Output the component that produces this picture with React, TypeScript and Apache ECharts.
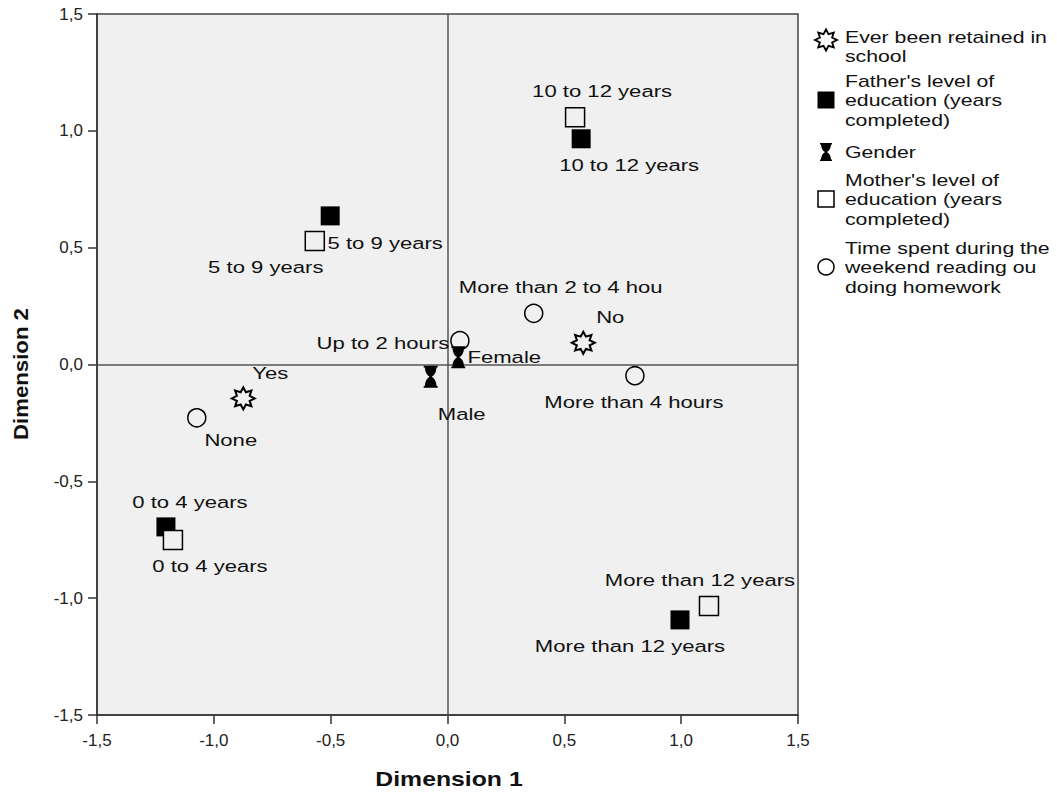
import React, { useEffect, useRef } from "react";
import * as echarts from "echarts";

// ---------- data ----------
const retainedCats = ["Yes", "No"];
const retainedX = [-0.874, 0.581];
const retainedY = [-0.145, 0.093];

const fatherCats = ["0 to 4 years", "5 to 9 years", "10 to 12 years", "More than 12 years"];
const fatherX = [-1.205, -0.502, 0.572, 0.995];
const fatherY = [-0.695, 0.636, 0.966, -1.093];

const motherCats = ["0 to 4 years", "5 to 9 years", "10 to 12 years", "More than 12 years"];
const motherX = [-1.175, -0.568, 0.546, 1.119];
const motherY = [-0.751, 0.529, 1.058, -1.033];

const genderCats = ["Male", "Female"];
const genderX = [-0.072, 0.046];
const genderY = [-0.052, 0.031];

const timeCats = ["None", "Up to 2 hours", "More than 2 to 4 hou", "More than 4 hours"];
const timeX = [-1.073, 0.053, 0.369, 0.802];
const timeY = [-0.228, 0.102, 0.219, -0.048];

const tickValues = [-1.5, -1.0, -0.5, 0, 0.5, 1.0, 1.5];
const tickLabels = ["-1,5", "-1,0", "-0,5", "0,0", "0,5", "1,0", "1,5"];

const legendLines = [
  ["Ever been retained in", "school"],
  ["Father's level of", "education (years", "completed)"],
  ["Gender"],
  ["Mother's level of", "education (years", "completed)"],
  ["Time spent during the", "weekend reading ou", "doing homework"],
];

// ---------- styles / label placement (pixels) ----------
const retainedLabelOffsets = [[27, -25], [27, -26]];
const fatherLabelOffsets = [[24, -25], [55, 27], [48, 26], [-50, 26]];
const motherLabelOffsets = [[37, 26], [-49, 26], [27, -26], [-9, -26]];
const genderLabelOffsets = [[31, 37], [46, 0]];
const timeLabelOffsets = [[34, 22], [-77, 2], [27, -26], [-1, 26]];

const FONT = '"Liberation Sans", Arial, Helvetica, sans-serif';
const PLOT_BG = "#f0f0f0";

const STAR_D =
  "M50 0 L61.48 22.28 L85.36 14.64 L77.72 38.52 L100 50 L77.72 61.48 L85.36 85.36 L61.48 77.72 L50 100 L38.52 77.72 L14.64 85.36 L22.28 61.48 L0 50 L22.28 38.52 L14.64 14.64 L38.52 22.28 Z";
const HOURGLASS_D =
  "M0 0 L100 0 L100 8 L92 8 Q88 40 58 50 Q88 60 92 92 L100 92 L100 100 L0 100 L0 92 L8 92 Q12 60 42 50 Q12 40 8 8 L0 8 Z";

echarts.graphic.registerShape("star8", echarts.graphic.extendPath(STAR_D, {}));
echarts.graphic.registerShape("hourglass", echarts.graphic.extendPath(HOURGLASS_D, {}));

function fmtTick(v: number) {
  const idx = tickValues.findIndex((t) => Math.abs(t - v) < 1e-6);
  return idx >= 0 ? tickLabels[idx] : "";
}

function labelSeries(name: string, cats: string[], xs: number[], ys: number[], offs: number[][]) {
  return {
    type: "custom",
    name: name + " labels",
    silent: true,
    z: 6,
    data: cats.map((_c, i) => [xs[i], ys[i], i]),
    encode: { x: 0, y: 1 },
    renderItem: (_params: any, api: any) => {
      const i = api.value(2);
      const p = api.coord([api.value(0), api.value(1)]);
      return {
        type: "text",
        x: p[0] + offs[i][0],
        y: p[1] + offs[i][1],
        scaleX: 1.3,
        style: {
          text: cats[i],
          font: `17px ${FONT}`,
          fill: "#111",
          align: "center",
          verticalAlign: "middle",
          textAlign: "center",
          textVerticalAlign: "middle",
        },
      };
    },
  };
}

function pointSeries(name: string, xs: number[], ys: number[], symbol: string, size: any, itemStyle: any, extra: any = {}) {
  return {
    type: "scatter",
    name,
    data: xs.map((x, i) => [x, ys[i]]),
    symbol,
    symbolSize: size,
    itemStyle: { opacity: 1, ...itemStyle },
    z: 4,
    ...extra,
  };
}

function buildLegend() {
  const els: any[] = [];
  const firstLineY = [37, 81, 152, 180, 248];
  const iconY = [40, 100, 152, 199, 267];
  const lh = 19.5;
  const iconX = 826;
  legendLines.forEach((lines, k) => {
    els.push({
      type: "text",
      x: 845,
      y: firstLineY[k] - lh / 2,
      scaleX: 1.25,
      style: {
        text: lines.join("\n"),
        font: `17px ${FONT}`,
        lineHeight: lh,
        fill: "#111",
        align: "left",
        verticalAlign: "top",
        textAlign: "left",
        textVerticalAlign: "top",
      },
    });
  });
  // icons
  els.push({
    type: "star8",
    x: iconX - 11,
    y: iconY[0] - 10.5,
    scaleX: 0.22,
    scaleY: 0.21,
    style: { fill: "#fff", stroke: "#000", lineWidth: 1.8, strokeNoScale: true },
  });
  els.push({
    type: "rect",
    shape: { x: iconX - 8.5, y: iconY[1] - 8.5, width: 17, height: 17 },
    style: { fill: "#000" },
  });
  els.push({
    type: "hourglass",
    x: iconX - 6,
    y: iconY[2] - 9,
    scaleX: 0.12,
    scaleY: 0.18,
    style: { fill: "#000" },
  });
  els.push({
    type: "rect",
    shape: { x: iconX - 8, y: iconY[3] - 8, width: 16, height: 16 },
    style: { fill: "#fff", stroke: "#000", lineWidth: 1.5 },
  });
  els.push({
    type: "circle",
    shape: { cx: iconX, cy: iconY[4], r: 8 },
    style: { fill: "#fff", stroke: "#000", lineWidth: 1.5 },
  });
  // axis names
  els.push({
    type: "text",
    x: 449,
    y: 779,
    scaleX: 1.24,
    style: {
      text: "Dimension 1",
      font: `bold 20px ${FONT}`,
      fill: "#111",
      align: "center",
      verticalAlign: "middle",
      textAlign: "center",
      textVerticalAlign: "middle",
    },
  });
  els.push({
    type: "text",
    x: 21,
    y: 374,
    rotation: Math.PI / 2,
    scaleX: 1.11,
    style: {
      text: "Dimension 2",
      font: `bold 20px ${FONT}`,
      fill: "#111",
      align: "center",
      verticalAlign: "middle",
      textAlign: "center",
      textVerticalAlign: "middle",
    },
  });
  return els;
}

export default function App() {
  const ref = useRef<HTMLDivElement>(null);
  useEffect(() => {
    if (!ref.current) return;
    const chart = echarts.init(ref.current, null, { renderer: "svg" });
    const axisCommon = {
      type: "value",
      min: -1.5,
      max: 1.5,
      interval: 0.5,
      axisLine: { show: true, onZero: false, lineStyle: { color: "#333", width: 1.5 } },
      axisTick: { show: true, length: 9, lineStyle: { color: "#333", width: 1.5 } },
      splitLine: { show: false },
    };
    const hollow = { color: PLOT_BG, borderColor: "#000", borderWidth: 1.5 };
    chart.setOption({
      animation: false,
      backgroundColor: "#ffffff",
      grid: {
        left: 97,
        top: 14,
        width: 701,
        height: 701,
        show: true,
        backgroundColor: PLOT_BG,
        borderColor: "#444",
        borderWidth: 1.5,
      },
      xAxis: {
        ...axisCommon,
        axisLabel: { margin: 17, fontSize: 17, fontFamily: FONT, color: "#222", formatter: fmtTick },
      },
      yAxis: {
        ...axisCommon,
        axisLabel: { margin: 14, fontSize: 17, fontFamily: FONT, color: "#222", formatter: fmtTick },
      },
      graphic: buildLegend(),
      series: [
        pointSeries(
          "Ever been retained in school",
          retainedX,
          retainedY,
          "path://" + STAR_D,
          [23, 22],
          { color: "rgba(0,0,0,0)", borderColor: "#000", borderWidth: 2 },
          {
            markLine: {
              silent: true,
              symbol: ["none", "none"],
              label: { show: false },
              lineStyle: { color: "#555", width: 1.5, type: "solid" },
              data: [{ xAxis: 0 }, { yAxis: 0 }],
              z: 1,
            },
          }
        ),
        pointSeries("Father's level of education (years completed)", fatherX, fatherY, "rect", 19, { color: "#000" }),
        pointSeries("Mother's level of education (years completed)", motherX, motherY, "rect", 19, hollow),
        pointSeries("Time spent during the weekend reading ou doing homework", timeX, timeY, "circle", 18, hollow),
        pointSeries("Gender", genderX, genderY, "path://" + HOURGLASS_D, [14, 22], { color: "#000" }),
        labelSeries("retained", retainedCats, retainedX, retainedY, retainedLabelOffsets),
        labelSeries("father", fatherCats, fatherX, fatherY, fatherLabelOffsets),
        labelSeries("mother", motherCats, motherX, motherY, motherLabelOffsets),
        labelSeries("gender", genderCats, genderX, genderY, genderLabelOffsets),
        labelSeries("time", timeCats, timeX, timeY, timeLabelOffsets),
      ],
    });
    return () => chart.dispose();
  }, []);
  return <div ref={ref} style={{ position: "fixed", left: 0, top: 0, width: 1057, height: 794 }} />;
}
